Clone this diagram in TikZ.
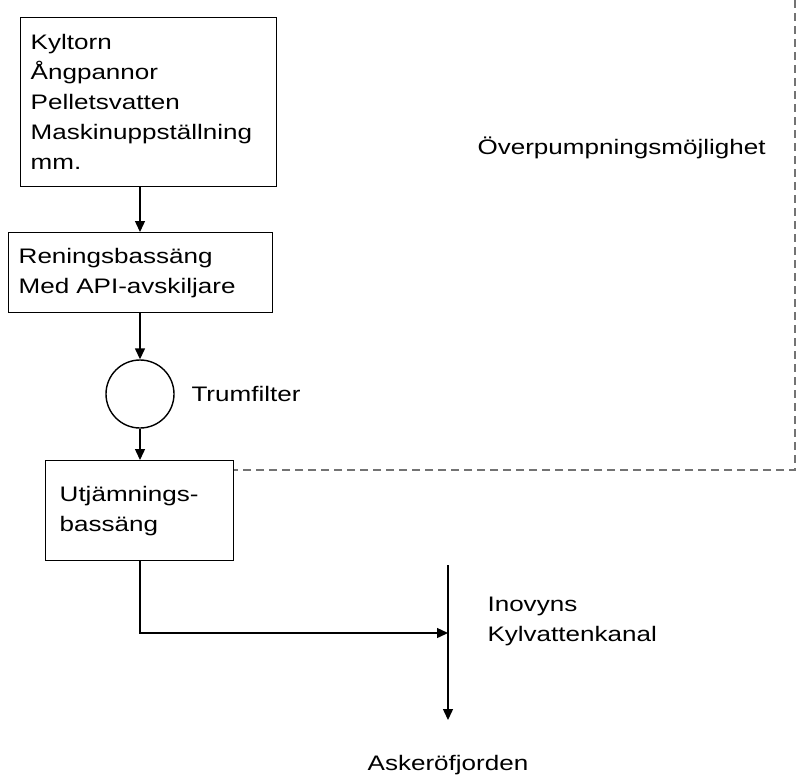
\documentclass[tikz,border=0pt]{standalone}
\usepackage{fontspec}
\setmainfont[FakeStretch=1.24]{Liberation Sans}
\usetikzlibrary{arrows.meta}
\begin{document}
\begin{tikzpicture}[x=1pt,y=-1pt,
  every node/.style={font=\fontsize{21}{30}\selectfont},
  box/.style={draw, line width=1.4pt, align=left, inner ysep=0pt, anchor=north west},
  flow/.style={line width=1.4pt, -{Triangle[length=11pt,width=10pt]}},
  dash line/.style={line width=1.4pt, draw=black!55, dash pattern=on 8pt off 5pt}]
\useasboundingbox (0,0) rectangle (797,777);
\node[box, minimum height=169pt, text width=236pt, inner xsep=10pt] (b1) at (20,17)
  {Kyltorn\\Ångpannor\\Pelletsvatten\\Maskinuppställning\\mm.};
\node[box, minimum height=80pt, text width=244pt, inner xsep=10pt] (b2) at (8,232)
  {Reningsbassäng\\Med API-avskiljare};
\node[draw, circle, line width=1.4pt, minimum size=68pt, inner sep=0pt] (c) at (140,394) {};
\node[anchor=west] (tf) at (188,394) {Trumfilter};
\node[box, minimum height=100pt, text width=160pt, inner xsep=14pt] (b3) at (45,460)
  {Utjämnings-\\bassäng};
\coordinate (ktop) at (448,565);
\coordinate (kbot) at (448,720);
\coordinate (kmid) at (448,633);
\coordinate (bend) at (140,633);
\node[anchor=west, align=left] (kanal) at (484,621) {Inovyns\\Kylvattenkanal};
\node (fj) at (448,765) {Askeröfjorden};
\node[anchor=west] (op) at (474,148) {Överpumpningsmöjlighet};
\coordinate (dtop) at (795,0);
\coordinate (dcorner) at (795,470);
\draw[flow] (b1.south -| c) -- (b2.north -| c);
\draw[flow] (b2.south -| c) -- (c.north);
\draw[flow] (c.south) -- (b3.north -| c);
\draw[flow] (b3.south -| c) -- (bend) -- (kmid);
\draw[flow] (ktop) -- (kbot);
\draw[dash line] (dtop) -- (dcorner) -- (b3.east |- dcorner);
\end{tikzpicture}
\end{document}
